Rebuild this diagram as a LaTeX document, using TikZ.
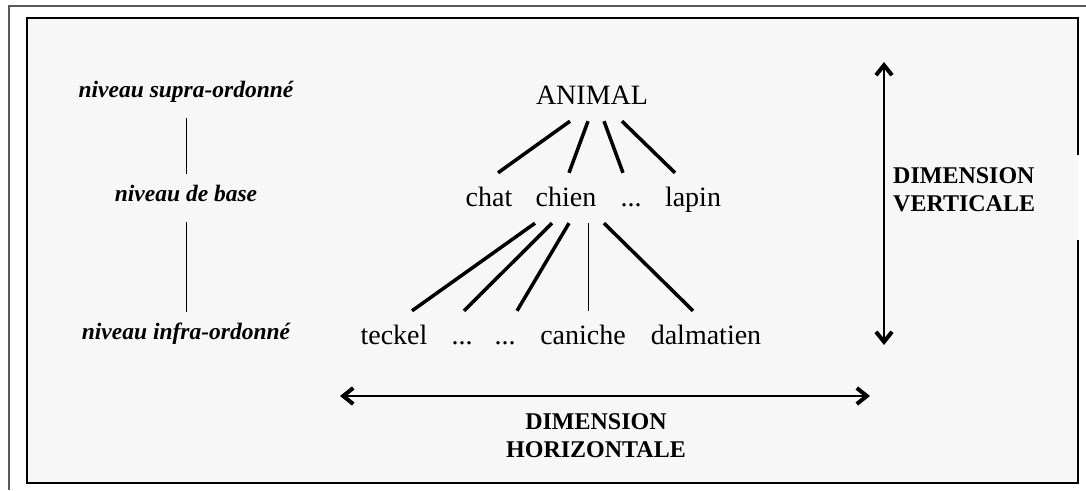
\documentclass[tikz,border=0pt]{standalone}
\usepackage{fontspec}
\setmainfont{Liberation Serif}
\usetikzlibrary{arrows.meta}

\tikzset{
  wort/.style={font=\fontsize{28}{32}\selectfont, anchor=base, text height=24pt, text depth=6pt, inner xsep=2pt, inner ysep=10pt},
  ebene/.style={font=\fontsize{23.5}{27}\selectfont\bfseries\itshape, anchor=base, text height=16pt, text depth=8pt, inner ysep=12pt},
  dimtext/.style={font=\fontsize{24}{28}\selectfont\bfseries, inner sep=0pt},
  ast/.style={line width=3.5pt},
  duenn/.style={line width=1pt},
  dimpfeil/.style={line width=2pt, <->},
}

\begin{document}
\begin{tikzpicture}[>={Straight Barb[length=10pt,width=16pt,line width=4pt]}, x=1pt, y=1pt]
\useasboundingbox (0,0) rectangle (1086,490);

% Rahmen
\draw[gray!70!black, line width=1.5pt] (9,0) -- (9,484) -- (1086,484);
\fill[black!3] (27,7) rectangle (1078,472);
\draw[line width=2pt] (1078,335) -- (1078,472) -- (27,472) -- (27,7) -- (1078,7) -- (1078,250);

% Ebenen (links)
\node[ebene] (supra) at (186,392) {niveau supra-ordonné};
\node[ebene] (basis) at (186,288) {niveau de base};
\node[ebene] (infra) at (186,150) {niveau infra-ordonné};

\draw[duenn] (supra.south) -- (basis.north);
\draw[duenn] (basis.south) -- (infra.north);


% Hierarchie
\node[wort] (animal) at (592,385) {ANIMAL};

\node[wort] (chat)   at (489,283) {chat};
\node[wort] (chien)  at (566,283) {chien};
\node[wort] (punkte) at (631,283) {...};
\node[wort] (lapin)  at (693,283) {lapin};

\node[wort] (teckel)    at (394,145) {teckel};
\node[wort] (punkteA)   at (462,145) {...};
\node[wort] (punkteB)   at (505,145) {...};
\node[wort] (caniche)   at (583,145) {caniche};
\node[wort] (dalmatien) at (706,145) {dalmatien};

\draw[ast] ([xshift=-22pt]animal.south) -- ([xshift=9pt]chat.north);
\draw[ast] ([xshift=-4pt]animal.south)  -- ([xshift=3pt]chien.north);
\draw[ast] ([xshift=12pt]animal.south)  -- ([xshift=-8pt]punkte.north);
\draw[ast] ([xshift=30pt]animal.south)  -- ([xshift=-18pt]lapin.north);

\draw[ast]   ([xshift=-31pt]chien.south) -- ([xshift=18pt]teckel.north);
\draw[ast]   ([xshift=-14pt]chien.south) -- ([xshift=2pt]punkteA.north);
\draw[ast]   ([xshift=3pt]chien.south)   -- ([xshift=12pt]punkteB.north);
\draw[duenn] ([xshift=22pt]chien.south)  -- ([xshift=5pt]caniche.north);
\draw[ast]   ([xshift=38pt]chien.south)  -- ([xshift=-13pt]dalmatien.north);


% Dimensionen
\coordinate (vo) at (884,428);
\coordinate (vu) at (884,145);
\draw[dimpfeil] (vu) -- (vo);
\node[dimtext, anchor=west, align=left] (dimv) at (893,300) {DIMENSION\\VERTICALE};

\coordinate (hl) at (340,94);
\coordinate (hr) at (870,94);
\draw[dimpfeil] (hl) -- (hr);
\node[dimtext, align=center] (dimh) at (596,54) {DIMENSION\\HORIZONTALE};

\end{tikzpicture}
\end{document}
